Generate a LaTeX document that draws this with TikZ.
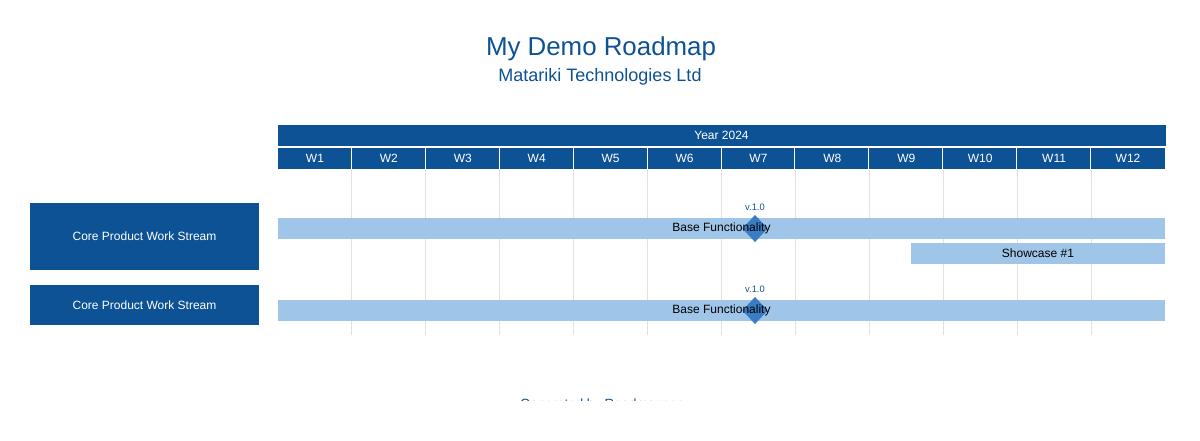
\documentclass[tikz,border=0pt]{standalone}
\usepackage{fontspec}
\setmainfont{Liberation Sans}
\usetikzlibrary{positioning,shapes.geometric}
\definecolor{rmblue}{HTML}{0D5295}
\definecolor{rmbar}{HTML}{9FC5E8}
\definecolor{rmmile}{HTML}{3A7DC5}
\definecolor{rmgrid}{HTML}{E2E2E2}

\begin{document}
\begin{tikzpicture}[x=0.75pt,y=-0.75pt,
  every node/.style={font=\fontsize{9}{11}\selectfont,inner sep=0pt},
  hdr/.style={fill=rmblue,text=white,draw=white,line width=0.75pt,minimum height=16.5pt},
  grp/.style={fill=rmblue,text=white,minimum width=171.75pt,text depth=0pt},
  bar/.style={fill=rmbar,text=black,minimum height=15.75pt},
  mile/.style={diamond,fill=rmmile,shape aspect=0.75,minimum width=19pt,minimum height=20.5pt},
  mlab/.style={text=rmblue,font=\fontsize{7}{8}\selectfont},
  grid/.style={draw=rmgrid,line width=0.75pt}]
\useasboundingbox (0,0) rectangle (1200,440);
% titles
\node[text=rmblue,font=\fontsize{19.4}{23}\selectfont,anchor=base] (title) at (601,55) {My Demo Roadmap};
\node[text=rmblue,font=\fontsize{13.5}{16}\selectfont,anchor=base] (sub) at (600,81) {Matariki Technologies Ltd};
% timeline
\node[hdr,minimum width=666.75pt] (year) at (721.5,135.5) {Year 2024};
\foreach \i in {1,...,12}
  \node[hdr,minimum width=56.19pt] (w\i) at (278+\i*73.917-36.96,158.5) {W\i};
\foreach \i in {1,...,11}
  \draw[grid] (278+\i*73.917,170) -- (278+\i*73.917,335);
% groups
\node[grp,minimum height=50.25pt] (g1) at (144.5,236.5) {Core Product Work Stream};
\node[grp,minimum height=30pt] (g2) at (144.5,305) {Core Product Work Stream};
% tasks
\node[bar,minimum width=665.25pt] (t1) at (721.5,228.5) {};
\node[bar,minimum width=190.5pt] (t2) at (1038,253.5) {Showcase \#1};
\node[bar,minimum width=665.25pt] (t3) at (721.5,310.5) {};
% milestones
\node[mile] (m1) at (755,228.5) {};
\node[mile] (m2) at (755,310.5) {};
\node[mlab,above=3pt of m1] (l1) {v.1.0};
\node[mlab,above=3pt of m2] (l2) {v.1.0};
\node (n1) at (t1) {Base Functionality};
\node (n3) at (t3) {Base Functionality};
% footer
\begin{scope}
\clip (0,0) rectangle (1200,400);
\node[text=rmblue,font=\fontsize{10}{12}\selectfont,anchor=base] (foot) at (601,408) {Generated by Roadmapper};
\end{scope}
\end{tikzpicture}
\end{document}
